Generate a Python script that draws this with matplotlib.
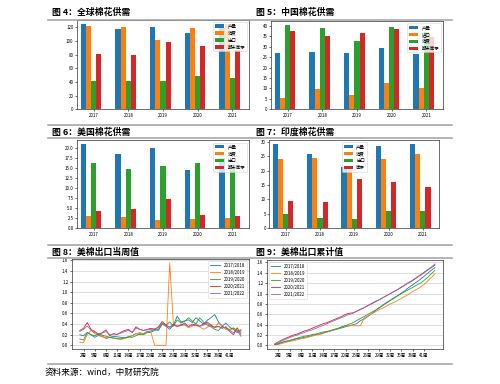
import matplotlib
matplotlib.use("Agg")
import matplotlib.pyplot as plt
import numpy as np
from matplotlib.lines import Line2D
from matplotlib.ticker import MultipleLocator, FormatStrFormatter

plt.rcParams["font.family"] = ["Noto Sans CJK SC", "DejaVu Sans"]
plt.rcParams["axes.unicode_minus"] = False

# ---- data ----
years = ["2017", "2018", "2019", "2020", "2021"]

world_labels = ["产量", "消费", "出口", "期末库存"]
world_prod = [124, 118, 121, 112, 119]
world_cons = [122, 120, 102, 119, 125]
world_exp = [42, 42, 41, 48, 46]
world_stock = [81, 80, 98, 92, 87]

china_labels = ["产量", "进口", "消费", "期末库存"]
china_prod = [27.2, 27.4, 26.9, 29.3, 26.4]
china_imp = [5.6, 9.6, 6.9, 12.5, 10.1]
china_cons = [40.5, 39.2, 32.6, 39.5, 37.0]
china_stock = [37.6, 35.2, 36.5, 38.7, 34.5]

us_labels = ["产量", "消费", "出口", "期末库存"]
us_prod = [21.0, 18.5, 20.0, 14.7, 17.6]
us_cons = [3.2, 2.9, 2.1, 2.3, 2.5]
us_exp = [16.25, 14.8, 15.6, 16.4, 15.0]
us_stock = [4.3, 4.8, 7.25, 3.25, 3.0]

india_labels = ["产量", "消费", "出口", "库存"]
india_prod = [29.1, 25.8, 21.2, 28.4, 29.1]
india_cons = [24.1, 24.3, 20.1, 24.0, 25.6]
india_exp = [5.1, 3.5, 3.2, 6.1, 6.1]
india_stock = [9.3, 9.0, 17.0, 16.0, 14.4]

seasons = ["2017/2018", "2018/2019", "2019/2020", "2020/2021", "2021/2022"]

weekly_1718 = [0.20, 0.18, 0.24, 0.20, 0.15, 0.19, 0.17, 0.13, 0.15, 0.17,
               0.16, 0.15, 0.14, 0.16, 0.18, 0.22, 0.20, 0.22, 0.26, 0.27,
               0.30, 0.28, 0.40, 0.36, 0.30, 0.38, 0.55, 0.44, 0.46, 0.48,
               0.43, 0.52, 0.46, 0.40, 0.47, 0.52, 0.58, 0.44, 0.36, 0.42,
               0.34, 0.30, 0.24, 0.28]
weekly_1819 = [0.06, 0.05, 0.20, 0.28, 0.22, 0.18, 0.16, 0.14, 0.15, 0.13,
               0.12, 0.11, 0.13, 0.15, 0.18, 0.22, 0.24, 0.22, 0.25, 0.24,
               0.00, 0.00, 0.00, 0.00, 1.55, 0.38, 0.35, 0.40, 0.38, 0.33,
               0.36, 0.42, 0.35, 0.30, 0.34, 0.38, 0.33, 0.42, 0.36, 0.30,
               0.28, 0.32, 0.26, 0.30]
weekly_1920 = [0.12, 0.10, 0.24, 0.20, 0.18, 0.22, 0.19, 0.17, 0.15, 0.14,
               0.13, 0.12, 0.14, 0.16, 0.15, 0.18, 0.22, 0.20, 0.24, 0.25,
               0.28, 0.30, 0.42, 0.38, 0.44, 0.36, 0.48, 0.42, 0.45, 0.52,
               0.46, 0.40, 0.52, 0.44, 0.38, 0.35, 0.30, 0.28, 0.36, 0.32,
               0.30, 0.33, 0.28, 0.17]
weekly_2021 = [0.28, 0.32, 0.43, 0.30, 0.26, 0.20, 0.24, 0.29, 0.18, 0.22,
               0.20, 0.25, 0.28, 0.30, 0.24, 0.35, 0.30, 0.28, 0.30, 0.32,
               0.30, 0.35, 0.45, 0.38, 0.34, 0.40, 0.36, 0.38, 0.42, 0.35,
               0.40, 0.38, 0.36, 0.40, 0.44, 0.38, 0.34, 0.36, 0.32, 0.35,
               0.26, 0.20, 0.33, 0.21]
weekly_2122 = [0.26, 0.30, 0.36, 0.29, 0.24, 0.22, 0.23, 0.26, 0.20, 0.21,
               0.21, 0.23, 0.26, 0.28, 0.25, 0.32, 0.30, 0.28, 0.29, 0.30,
               0.31, 0.33, 0.41, 0.36, 0.34, 0.38, 0.36, 0.37, 0.39, 0.36,
               0.38, 0.37, 0.36, 0.38, 0.41, 0.36, 0.34, 0.35, 0.33, 0.34,
               0.28, 0.24, 0.29, 0.25]

cum_1718 = [0.02, 0.04, 0.06, 0.08, 0.09, 0.11, 0.13, 0.14, 0.16, 0.17,
            0.19, 0.21, 0.22, 0.24, 0.26, 0.28, 0.30, 0.32, 0.34, 0.36,
            0.38, 0.40, 0.42, 0.48, 0.51, 0.56, 0.61, 0.67, 0.72, 0.77,
            0.82, 0.87, 0.91, 0.96, 1.01, 1.06, 1.12, 1.17, 1.22, 1.27,
            1.33, 1.39, 1.45, 1.50]
cum_1819 = [0.01, 0.02, 0.04, 0.06, 0.08, 0.09, 0.11, 0.13, 0.14, 0.16,
            0.18, 0.20, 0.21, 0.23, 0.26, 0.28, 0.31, 0.33, 0.36, 0.38,
            0.38, 0.38, 0.38, 0.38, 0.53, 0.57, 0.61, 0.65, 0.69, 0.72,
            0.76, 0.80, 0.83, 0.87, 0.91, 0.95, 0.99, 1.04, 1.08, 1.12,
            1.17, 1.24, 1.31, 1.38]
cum_1920 = [0.02, 0.03, 0.06, 0.08, 0.10, 0.12, 0.14, 0.16, 0.18, 0.19,
            0.21, 0.22, 0.24, 0.26, 0.27, 0.29, 0.31, 0.33, 0.36, 0.38,
            0.41, 0.44, 0.48, 0.52, 0.56, 0.60, 0.64, 0.68, 0.73, 0.78,
            0.83, 0.87, 0.92, 0.96, 1.00, 1.04, 1.08, 1.12, 1.16, 1.20,
            1.25, 1.31, 1.38, 1.45]
cum_2021 = [0.03, 0.07, 0.11, 0.14, 0.17, 0.20, 0.22, 0.25, 0.28, 0.30,
            0.33, 0.36, 0.39, 0.42, 0.44, 0.47, 0.50, 0.53, 0.56, 0.60,
            0.62, 0.63, 0.66, 0.70, 0.73, 0.77, 0.81, 0.85, 0.88, 0.92,
            0.96, 1.00, 1.04, 1.08, 1.12, 1.17, 1.21, 1.25, 1.30, 1.35,
            1.40, 1.45, 1.50, 1.55]
cum_2122 = [0.02, 0.05, 0.09, 0.12, 0.15, 0.18, 0.20, 0.23, 0.25, 0.28,
            0.30, 0.33, 0.36, 0.39, 0.42, 0.45, 0.48, 0.51, 0.54, 0.57,
            0.60, 0.62, 0.66, 0.69, 0.73, 0.77, 0.80, 0.84, 0.88, 0.92,
            0.96, 1.00, 1.04, 1.08, 1.13, 1.17, 1.22, 1.26, 1.31, 1.36,
            1.41, 1.46, 1.51, 1.57]

week_ticks = [1, 4, 7, 10, 13, 16, 19, 22, 25, 28, 31, 34, 37, 40]
week_labels = ["2周", "5周", "8周", "11周", "14周", "17周", "20周", "23周",
               "26周", "29周", "32周", "35周", "38周", "41周"]

# ---- layout helpers (pixel coordinates of the 500x384 page) ----
W, H = 500, 384
BAR_W = 0.15
FS = 3.2
RULE = "#a0a0a0"

fig = plt.figure(figsize=(W / 100, H / 100), dpi=100)


def add_ax(left, top, right, bottom):
    return fig.add_axes([left / W, 1 - bottom / H, (right - left) / W, (bottom - top) / H])


def rule(y, x0=48, x1=452):
    fig.add_artist(Line2D([x0 / W, x1 / W], [1 - y / H, 1 - y / H],
                          transform=fig.transFigure, color=RULE, lw=1.1))


def title(x, y, text):
    fig.text(x / W, 1 - y / H, text, fontsize=6.4, weight="bold", va="center", ha="left")


def style(ax):
    ax.tick_params(labelsize=FS, length=1.5, width=0.4, pad=1)
    for s in ax.spines.values():
        s.set_linewidth(0.5)
        s.set_color("#333333")


def bar_panel(ax, series, labels, step, loc, fmt=None):
    x = np.arange(len(years))
    for k, (vals, lab) in enumerate(zip(series, labels)):
        ax.bar(x + (k - 2) * BAR_W, vals, BAR_W, label=lab)
    ax.set_xticks(x)
    ax.set_xticklabels(years)
    ax.set_xlim(-0.48, 4.48)
    ax.yaxis.set_major_locator(MultipleLocator(step))
    if fmt:
        ax.yaxis.set_major_formatter(FormatStrFormatter(fmt))
    style(ax)
    ax.legend(loc=loc, fontsize=FS, handlelength=2.0, handleheight=0.7,
              labelspacing=0.45, borderpad=0.4, handletextpad=0.8, frameon=True,
              fancybox=True, edgecolor="#cccccc").get_frame().set_linewidth(0.4)


def line_panel(ax, series, loc):
    x = np.arange(len(series[0]))
    for vals, lab in zip(series, seasons):
        ax.plot(x, vals, lw=0.6, label=lab)
    ax.set_xticks(week_ticks)
    ax.set_xticklabels(week_labels)
    ax.yaxis.set_major_locator(MultipleLocator(0.2))
    ax.yaxis.set_major_formatter(FormatStrFormatter("%.1f"))
    ax.grid(axis="y", color="#d0d0d0", lw=0.5)
    ax.set_axisbelow(True)
    style(ax)
    ax.legend(loc=loc, fontsize=FS, handlelength=2.2, labelspacing=0.45,
              borderpad=0.4, handletextpad=0.8, fancybox=True,
              edgecolor="#cccccc").get_frame().set_linewidth(0.4)


# rules and titles
rule(19.5)
rule(125)
rule(138)
rule(245)
rule(258)
rule(364)

title(52, 12.5, "图 4：全球棉花供需")
title(256, 12.5, "图 5：中国棉花供需")
title(52, 132, "图 6：美国棉花供需")
title(256, 132, "图 7：印度棉花供需")
title(52, 252, "图 8：美棉出口当周值")
title(256, 252, "图 9：美棉出口累计值")

fig.text(45 / W, 1 - 372 / H, "资料来源：wind，中财研究院", fontsize=6.2, va="center", ha="left")

# panels
ax4 = add_ax(77, 19.5, 249, 109.3)
bar_panel(ax4, [world_prod, world_cons, world_exp, world_stock], world_labels, 20, "upper right")

ax5 = add_ax(271, 20.7, 443, 109.3)
bar_panel(ax5, [china_prod, china_imp, china_cons, china_stock], china_labels, 5, "upper right")

ax6 = add_ax(77, 140.3, 249, 228.3)
bar_panel(ax6, [us_prod, us_cons, us_exp, us_stock], us_labels, 2.5, "upper right", "%.1f")

ax7 = add_ax(269.3, 140, 439.3, 228.3)
bar_panel(ax7, [india_prod, india_cons, india_exp, india_stock], india_labels, 5, "upper center")

ax8 = add_ax(71.7, 259, 249, 349.4)
line_panel(ax8, [weekly_1718, weekly_1819, weekly_1920, weekly_2021, weekly_2122], "upper right")

ax9 = add_ax(266.7, 260, 443, 349)
line_panel(ax9, [cum_1718, cum_1819, cum_1920, cum_2021, cum_2122], "upper left")

fig.savefig("out.png", dpi=100)
